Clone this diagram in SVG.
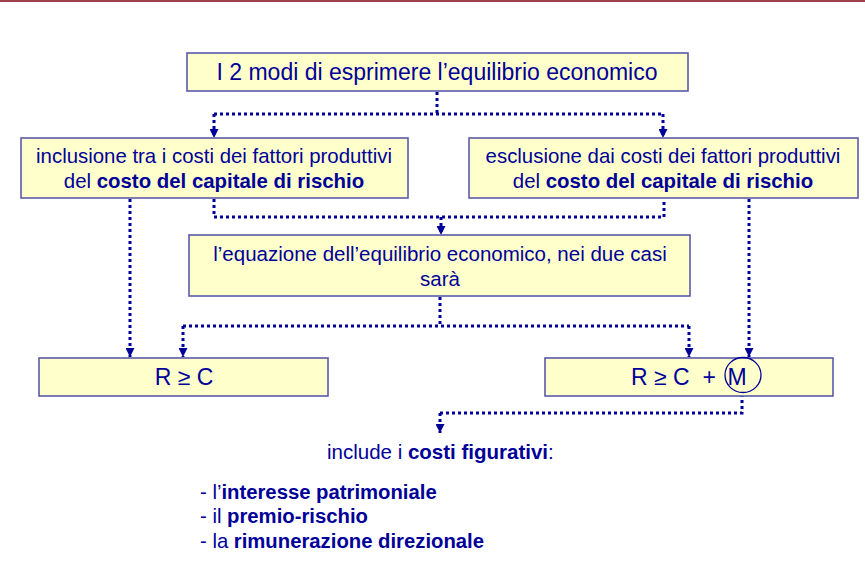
<svg xmlns="http://www.w3.org/2000/svg" width="865" height="584" viewBox="0 0 865 584">
<style>
.box{fill:#ffffcc;stroke:#5a5aaa;stroke-width:1.6}
.t{font-family:"Liberation Sans",Arial,sans-serif;fill:#000099;text-anchor:middle}
.tl{font-family:"Liberation Sans",Arial,sans-serif;fill:#000099}
.b{font-weight:bold}
.c{fill:none;stroke:#000099;stroke-width:3;stroke-dasharray:3 3}
</style>
<defs>
<marker id="ah" viewBox="0 0 10 10" refX="10" refY="5" markerUnits="userSpaceOnUse" markerWidth="9" markerHeight="9" orient="auto">
<path d="M0,0 L10,5 L0,10 z" fill="#000099"/>
</marker>
</defs>
<rect x="0" y="0" width="865" height="584" fill="#ffffff"/>
<line x1="0" y1="1" x2="865" y2="1" stroke="#a0404c" stroke-width="2"/>

<g id="connectors">
<path class="c" d="M437,92 V114 M214,114 H663" />
<path class="c" d="M214,114 V138" marker-end="url(#ah)"/>
<path class="c" d="M663,114 V138" marker-end="url(#ah)"/>
<path class="c" d="M214,199 V217 H664 V199" />
<path class="c" d="M441,217 V235" marker-end="url(#ah)"/>
<path class="c" d="M440,297 V326 M183,326 H689" />
<path class="c" d="M183,326 V357" marker-end="url(#ah)"/>
<path class="c" d="M689,326 V357" marker-end="url(#ah)"/>
<path class="c" d="M130,199 V357" marker-end="url(#ah)"/>
<path class="c" d="M749,199 V357" marker-end="url(#ah)"/>
<path class="c" d="M742,394 V413 H440" />
<path class="c" d="M440,413 V433" marker-end="url(#ah)"/>
</g>

<g id="title">
<rect class="box" x="187" y="53" width="501" height="38"/>
<text class="t" x="437" y="80" font-size="23">I 2 modi di esprimere l’equilibrio economico</text>
</g>

<g id="inclusione">
<rect class="box" x="21" y="138" width="387" height="60"/>
<text class="t" x="214" y="163" font-size="20.4">inclusione tra i costi dei fattori produttivi</text>
<text class="t" x="214" y="188" font-size="20.4">del <tspan class="b">costo del capitale di rischio</tspan></text>
</g>

<g id="esclusione">
<rect class="box" x="469" y="138" width="389" height="60"/>
<text class="t" x="663" y="163" font-size="20.4">esclusione dai costi dei fattori produttivi</text>
<text class="t" x="663" y="188" font-size="20.4">del <tspan class="b">costo del capitale di rischio</tspan></text>
</g>

<g id="equazione">
<rect class="box" x="189" y="235" width="501" height="61"/>
<text class="t" x="440" y="261" font-size="20.5">l’equazione dell’equilibrio economico, nei due casi</text>
<text class="t" x="440" y="286" font-size="20.5">sarà</text>
</g>

<g id="rc">
<rect class="box" x="39" y="358" width="289" height="38"/>
<text class="t" x="184" y="385" font-size="23">R ≥ C</text>
</g>

<g id="rcm">
<rect class="box" x="545" y="358" width="288" height="38"/>
<text class="tl" x="631" y="385" font-size="23" xml:space="preserve">R ≥ C  +</text>
<text class="t" x="737" y="385" font-size="23">M</text>
<ellipse cx="743" cy="375" rx="18" ry="17.5" fill="none" stroke="#000099" stroke-width="1.3"/>
</g>

<g id="costi">
<text class="tl" x="327" y="459" font-size="20.5">include i <tspan class="b">costi figurativi</tspan>:</text>
<text class="tl" x="200" y="499" font-size="20.3">- l’<tspan class="b">interesse patrimoniale</tspan></text>
<text class="tl" x="200" y="523" font-size="20.3">- il <tspan class="b">premio-rischio</tspan></text>
<text class="tl" x="200" y="548" font-size="20.3">- la <tspan class="b">rimunerazione direzionale</tspan></text>
</g>
</svg>
